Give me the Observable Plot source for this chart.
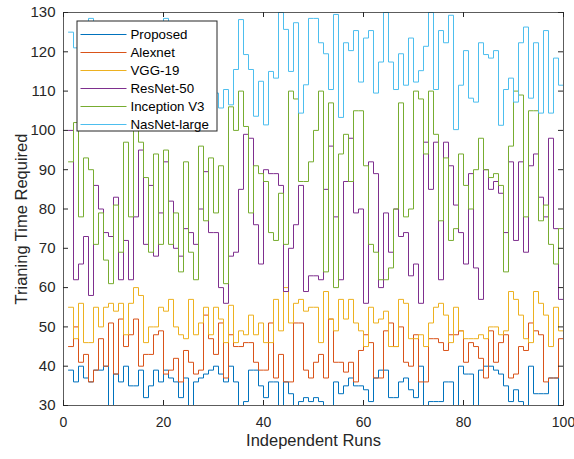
<!DOCTYPE html>
<html>
<head>
<meta charset="utf-8">
<script src="https://cdn.jsdelivr.net/npm/d3@7"></script>
<script src="https://cdn.jsdelivr.net/npm/@observablehq/plot@0.6"></script>
<style>
  body { margin: 0; background: #fff; }
  #wrap { position: relative; width: 574px; height: 459px; overflow: hidden; }
  #legend { position: absolute; left: 76px; top: 20px; }
  #legend svg { display: block; overflow: visible; }
</style>
</head>
<body>
<div id="wrap"><div id="legend"></div></div>
<script>
const seriesNames = ["Proposed", "Alexnet", "VGG-19", "ResNet-50", "Inception V3", "NasNet-large"];
const seriesColors = ["#0072BD", "#D95319", "#EDB120", "#7E2F8E", "#77AC30", "#4DBEEE"];
const xTicks = [0, 20, 40, 60, 80, 100];
const yTicks = [30, 40, 50, 60, 70, 80, 90, 100, 110, 120, 130];

const proposed = [39,36,40,37,36,39,39,40,30,38,36,40,35,35,39,32,35,39,36,39,37,36,32,37,30,36,37,38,39,40,38,36,40,36,30,31,39,39,35,32,36,36,30,36,33,30,31,32,31,32,31,30,30,36,33,35,37,35,35,34,31,37,39,39,32,32,36,37,34,32,40,30,31,31,31,36,36,30,40,38,38,30,39,40,40,39,38,35,31,34,31,30,40,33,33,33,37,37,30,39];
const alexnet = [45,50,41,43,36,39,47,40,51,38,52,45,48,52,40,43,43,48,49,38,39,42,36,44,41,38,39,53,47,43,51,37,48,45,45,46,46,41,39,39,51,37,43,36,36,51,51,39,37,41,43,37,52,41,41,38.5,41,36,44,48,46,37,37,49,51,45,50,41,40,48,36,36,47,47,46,44,48,48,49,41,46,45,42,37,49,41,46,48,37,38,45,44,51,49,48,36,37,37,47,46];
const vgg19 = [55,47,56,46,46,55,50,55,56,54,56,48,56,60,58,46,50,50,55,54,57,50,48,47,57,48,51,55,48,55,52,46,55.5,46,49,48,53,48,51,46,46,57,49,60,51,56,57,54,55,55,46,59,52,49,57,52,57,51,49,45,55,51,52,54,45,45,57,56,47,47,48,45,51,55,56,53,46,55,49,47,47,47,48,47,50,50,48,49,59,57,53,47,46,59,56,53,45,55,49,54];
const resnet50 = [100,62,66,73,58,86,80,74,73,83,62,72,62,78,95,71,86,68,79,92,82,70,68,75,74,71,80,89.5,74,74,60,56,68,69,85,99,98,76,66,90,89,89,86,59,70,76,86,59,63,63,62,85,96,78,62,87,98,79,80,56,92,89,60,79,69,80,73,74,63,66,56,97,85,97,62,97,91,81,74,66,89,65,57,90,85,87,84,74,92,72,92,69,91,94,83,78,98,75,57,79];
const inceptionV3 = [92,102,78,93,90,71,79,67,61,81,69,97,78,100,97,88,69,94,71,95,71,79,64,92,69,62,96,77,93,79,91,61,106,100,110,101,79,91,89,87,74,72,84,71,110,108,87,87,92,100,110,64,107,60,94,99,87,105,105,91,71,69,62,62,65,80,107,78,80,110,108,94,110,99,77,93,72,75,94,86,80,90,98,90,88,89,86,64,96,110,109,78,105,105,77,81,71,66,75,97];
const nasnetLarge = [125,121,118,122,128.5,112,120,108,125,115,104,119,110,126,113,107,121,116,103,128.5,117,111,124,106,119,114,122,108,117,109.5,105.7,110.4,106.5,115.5,128.2,119.3,115.5,103.6,112.5,101.4,115,113.3,130,125.7,115,127.4,104.4,111.6,128.5,128.5,122.3,119.5,110.4,129.5,103.3,122.3,120.3,125.4,112.3,123.5,125.4,109.5,117.4,130,117.4,110.4,119.5,111.5,123.5,112.3,115.2,121.4,130,110.4,125.4,122.3,129.3,100.2,111.5,120.3,108.2,107.2,122.3,119.3,118.4,120.3,101.3,110.4,113.3,107.2,122.3,126.3,108.2,122.3,104.4,125.4,104.4,118.4,111.5,125.4];

const seriesValues = [proposed, alexnet, vgg19, resnet50, inceptionV3, nasnetLarge];
const data = seriesNames.flatMap((name, k) =>
  seriesValues[k].map((v, i) => ({run: i + 1, value: v, name})));

const W = 574, H = 459, mT = 12, mB = 54, mL = 63, mR = 11;
const frameH = H - mT - mB, frameW = W - mL - mR;
const axisColor = "#262626";
const font = "'Liberation Sans', Arial, Helvetica, sans-serif";

const chart = Plot.plot({
  width: W, height: H,
  marginTop: mT, marginBottom: mB, marginLeft: mL, marginRight: mR,
  style: {fontFamily: font, background: "#fff", overflow: "visible"},
  x: {domain: [0, 100]},
  y: {domain: [30, 130]},
  color: {domain: seriesNames, range: seriesColors},
  marks: [
    Plot.line(data, {x: "run", y: "value", z: "name", stroke: "name", curve: "step-after", strokeWidth: 1, clip: true}),
    Plot.frame({stroke: axisColor, strokeOpacity: 0.75}),
    Plot.tickX(xTicks, {x: d => d, insetTop: frameH - 5, stroke: axisColor}),
    Plot.tickX(xTicks, {x: d => d, insetBottom: frameH - 5, stroke: axisColor}),
    Plot.tickY(yTicks, {y: d => d, insetRight: frameW - 5, stroke: axisColor}),
    Plot.tickY(yTicks, {y: d => d, insetLeft: frameW - 5, stroke: axisColor}),
    Plot.axisX(xTicks, {tickSize: 0, tickPadding: 12, fontSize: 14, color: axisColor, label: null}),
    Plot.axisY(yTicks, {tickSize: 0, tickPadding: 8, fontSize: 15, color: axisColor, label: null}),
    Plot.text(["Independent Runs"], {frameAnchor: "bottom", dy: 40, fontSize: 16.5, fill: axisColor, text: d => d}),
    Plot.text(["Trianing Time Required"], {frameAnchor: "left", dx: -42, dy: 10, rotate: -90, textAnchor: "middle", fontSize: 16.5, fill: axisColor, text: d => d})
  ]
});

const wrap = document.getElementById("wrap");
wrap.insertBefore(chart, wrap.firstChild);

// Legend: an opaque boxed key over the plot, drawn by Plot with the same color scale
const legendPlot = Plot.plot({
  width: 141, height: 118,
  marginTop: 0, marginLeft: 0, marginRight: 0, marginBottom: 7,
  style: {fontFamily: font, background: "transparent"},
  x: {domain: [0, 141], range: [0, 141], axis: null},
  y: {type: "point", domain: seriesNames, range: [13.3, 104.3], padding: 0, axis: null},
  color: {domain: seriesNames, range: seriesColors},
  marks: [
    Plot.frame({fill: "#ffffff", stroke: axisColor, inset: 0.5}),
    Plot.ruleY(seriesNames, {y: d => d, x1: 4.5, x2: 50.5, stroke: d => d, strokeWidth: 1}),
    Plot.text(seriesNames, {y: d => d, x: 54, text: d => d, textAnchor: "start", fill: "#000", fontSize: 13.3})
  ]
});
document.getElementById("legend").appendChild(legendPlot);
</script>
</body>
</html>
